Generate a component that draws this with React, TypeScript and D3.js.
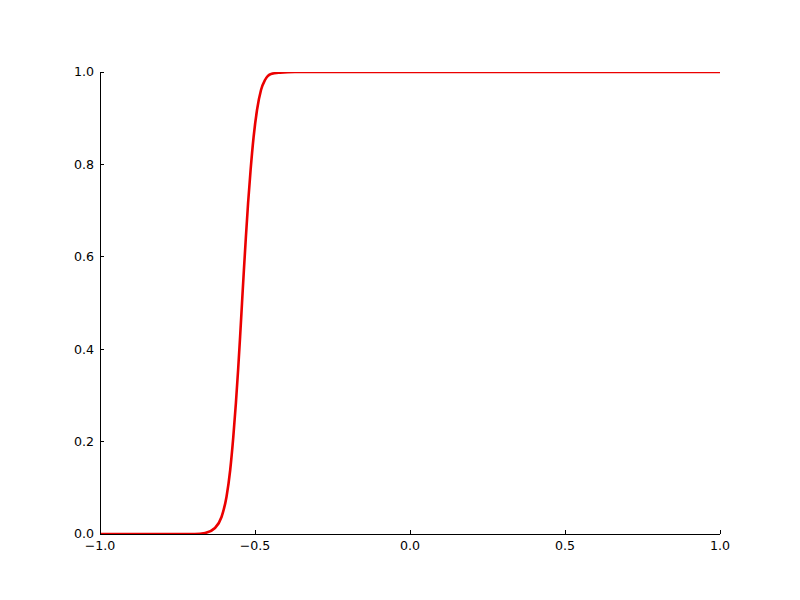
import React from 'react';
import * as d3 from 'd3';

// values
const curveX = [-1.0, -0.75, -0.694, -0.661, -0.629, -0.608, -0.592, -0.580, -0.570, -0.5616, -0.5545, -0.5481, -0.5419, -0.5358, -0.5294, -0.5223, -0.5142, -0.5045, -0.4935, -0.4806, -0.4677, -0.4484, -0.4194, -0.371, 0.0, 0.5, 1.0];
const curveY = [0, 0, 0, 0.0022, 0.013, 0.0368, 0.0801, 0.1385, 0.210, 0.2835, 0.355, 0.4264, 0.500, 0.5714, 0.6429, 0.7165, 0.7879, 0.8593, 0.9177, 0.961, 0.9827, 0.9957, 0.9985, 1.0, 1.0, 1.0, 1.0];
const xTicks = [-1.0, -0.5, 0.0, 0.5, 1.0];
const yTicks = [0.0, 0.2, 0.4, 0.6, 0.8, 1.0];

const width = 800;
const height = 600;
const margin = { top: 72, right: 80, bottom: 66, left: 100 };

const fmt = (v: number) => d3.format('.1f')(v).replace('-', '\u2212');

export default function App() {
  const x = d3.scaleLinear().domain([-1, 1]).range([margin.left, width - margin.right]);
  const y = d3.scaleLinear().domain([0, 1]).range([height - margin.bottom, margin.top]);

  const data = curveX.map((v, i) => [v, curveY[i]] as [number, number]);
  const line = d3.line<[number, number]>()
    .x(d => x(d[0]))
    .y(d => y(d[1]))
    .curve(d3.curveMonotoneX);

  const x0 = margin.left;
  const x1 = width - margin.right;
  const y0 = height - margin.bottom;
  const y1 = margin.top;
  const font = '12.6px "DejaVu Sans", sans-serif';

  return (
    <div style={{ position: 'absolute', left: 0, top: 0 }}>
      <svg width={width} height={height} style={{ display: 'block', background: '#fff' }}>
        <defs>
          <clipPath id="plotclip">
            <rect x={x0} y={y1} width={x1 - x0} height={y0 - y1} />
          </clipPath>
        </defs>
        <path d={line(data) || ''} fill="none" stroke="rgb(235,0,0)" strokeWidth={2.6}
          clipPath="url(#plotclip)" />
        {/* spines */}
        <line x1={x0} x2={x0} y1={y1} y2={y0} stroke="#000" strokeWidth={1} shapeRendering="crispEdges" />
        <line x1={x0} x2={x1} y1={y0} y2={y0} stroke="#000" strokeWidth={1} shapeRendering="crispEdges" />
        {/* x ticks, pointing inward */}
        {xTicks.map(t => (
          <g key={'x' + t}>
            <line x1={x(t)} x2={x(t)} y1={y0} y2={y0 - 4} stroke="#000" strokeWidth={1} shapeRendering="crispEdges" />
            <text x={x(t)} y={y0 + 16} textAnchor="middle" style={{ font }} fill="#000">{fmt(t)}</text>
          </g>
        ))}
        {/* y ticks */}
        {yTicks.map(t => (
          <g key={'y' + t}>
            <line x1={x0} x2={x0 + 4} y1={y(t)} y2={y(t)} stroke="#000" strokeWidth={1} shapeRendering="crispEdges" />
            <text x={x0 - 6} y={y(t)} dy="0.35em" textAnchor="end" style={{ font }} fill="#000">{fmt(t)}</text>
          </g>
        ))}
      </svg>
    </div>
  );
}
